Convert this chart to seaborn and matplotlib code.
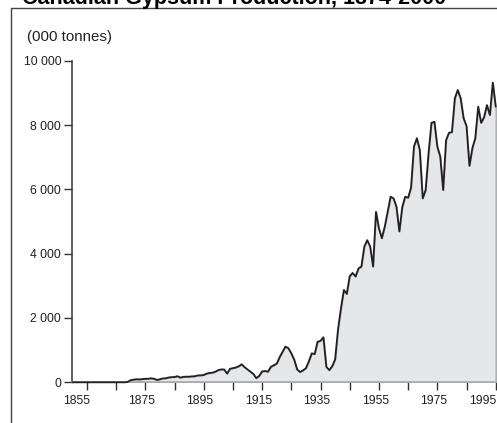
import numpy as np
import pandas as pd
import seaborn as sns
import matplotlib.pyplot as plt
from matplotlib.lines import Line2D
from matplotlib.ticker import FuncFormatter, MultipleLocator, NullFormatter
import matplotlib.transforms as mtransforms

# Canadian gypsum production, thousands of tonnes
years = list(range(1855, 2001))
zeros_before = [0] * 19  # 1855-1873
prod_1874_1899 = [15, 65, 85, 95, 90, 100, 110, 110, 125, 110, 75, 95, 120, 125, 150,
                  160, 165, 190, 145, 170, 175, 175, 185, 190, 215, 215]
prod_1900_1924 = [230, 270, 290, 300, 330, 380, 400, 400, 270, 420, 440, 460, 500, 560, 470,
                  400, 330, 260, 130, 200, 340, 350, 330, 480, 530]
prod_1925_1949 = [580, 780, 950, 1110, 1060, 900, 700, 400, 320, 370, 440, 650, 900, 880, 1260,
                  1290, 1400, 480, 380, 500, 710, 1650, 2300, 2870, 2750]
prod_1950_1974 = [3300, 3400, 3290, 3540, 3600, 4220, 4420, 4220, 3600, 5300, 4790, 4480, 4840,
                  5300, 5770, 5720, 5460, 4690, 5450, 5770, 5740, 6050, 7330, 7590, 7220]
prod_1975_2000 = [5720, 5980, 7120, 8070, 8100, 7330, 7020, 5980, 7530, 7760, 7780, 8830, 9090,
                  8830, 8210, 7970, 6730, 7280, 7590, 8570, 8070, 8240, 8620, 8310, 9320, 8570]

production = (zeros_before + prod_1874_1899 + prod_1900_1924 + prod_1925_1949
              + prod_1950_1974 + prod_1975_2000)
df = pd.DataFrame({"year": years, "production": production})

title = "Canadian Gypsum Production, 1874-2000"
unit_label = "(000 tonnes)"
x_label_years = [1855, 1875, 1895, 1915, 1935, 1955, 1975, 1995]

sns.set_style("ticks")
plt.rcParams['font.family'] = ['Liberation Sans', 'DejaVu Sans']

fig = plt.figure(figsize=(4.97, 4.23), dpi=100)
ax = fig.add_axes([72.3 / 497, 1 - 382.3 / 423, (495.7 - 72.3) / 497, (382.3 - 60.7) / 423])

ax.fill_between(df["year"], df["production"], 0, color="#e6e7e9", edgecolor="#a7a9ac", linewidth=1.0)
sns.lineplot(data=df, x="year", y="production", ax=ax, color="#231f20", linewidth=1.3,
             clip_on=False, zorder=4)

ax.set_xlim(1855, 2000)
ax.set_ylim(0, 10000)
ax.set_xlabel("")
ax.set_ylabel("")

ax.yaxis.set_major_locator(MultipleLocator(2000))
ax.yaxis.set_major_formatter(FuncFormatter(lambda v, p: f"{int(v):,}".replace(",", " ")))
ax.xaxis.set_major_locator(MultipleLocator(10))
ax.xaxis.set_major_formatter(NullFormatter())

ax.tick_params(axis="both", direction="out", length=5.5, width=1, color="#333333",
               labelsize=8.7, labelcolor="#231f20")
ax.tick_params(axis="y", pad=2.5)

# year labels sit a little right of their ticks in the original
xtrans = mtransforms.blended_transform_factory(ax.transData, ax.transAxes)
label_shift = {1855: 4, 1995: 2}
for yr in x_label_years:
    dx = label_shift.get(yr, 11)
    off = mtransforms.ScaledTranslation(dx / 100, -13 / 100, fig.dpi_scale_trans)
    ax.text(yr, 0, str(yr), transform=xtrans + off, ha="center", va="top",
            fontsize=8.7, color="#231f20", clip_on=False)

sns.despine(ax=ax, top=True, right=True)
ax.spines["left"].set_color("#333333")
ax.spines["left"].set_linewidth(1.1)
ax.spines["bottom"].set_color("#a7a9ac")
ax.spines["bottom"].set_linewidth(1.2)

fig.text(26.7 / 497, 1 - 36.7 / 423, unit_label, fontsize=10.8, va="center", ha="left", color="#231f20")
fig.text(22 / 497, 1 - 4 / 423, title, fontsize=15.5, fontweight="bold", va="baseline", ha="left",
         color="#000000")

# outer frame (left and top edges visible)
fig.add_artist(Line2D([11 / 497, 11 / 497], [0, 1 - 8 / 423], transform=fig.transFigure, color="#444444", lw=1))
fig.add_artist(Line2D([11 / 497, 1], [1 - 8 / 423, 1 - 8 / 423], transform=fig.transFigure, color="#444444", lw=1))

fig.savefig("out.png", dpi=100)
